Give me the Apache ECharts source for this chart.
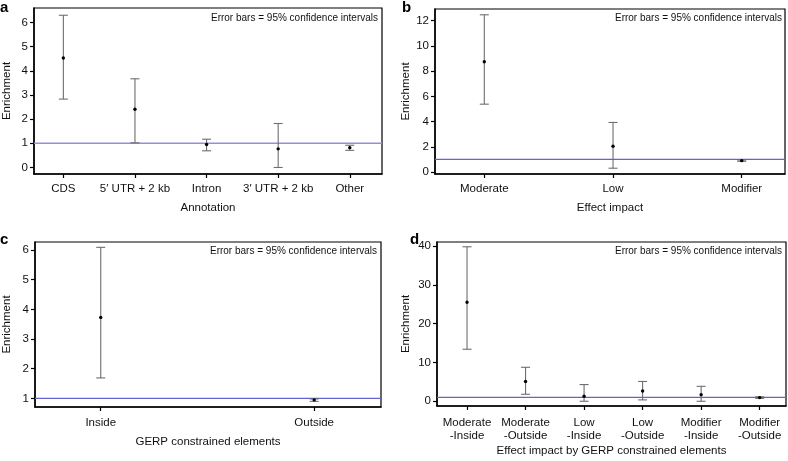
<!DOCTYPE html>
<html><head><meta charset="utf-8">
<script src="https://cdn.jsdelivr.net/npm/echarts@6/dist/echarts.min.js"></script>
<style>html,body{margin:0;padding:0;background:#fff}#c{width:788px;height:461px}</style>
</head><body><div id="c"></div>
<script>
// Panel a
const catsA = ['CDS', '5\u2032 UTR + 2 kb', 'Intron', '3\u2032 UTR + 2 kb', 'Other'];
const meanA = [4.53, 2.41, 0.95, 0.77, 0.82];
const lowA  = [2.83, 1.02, 0.69, 0.00, 0.71];
const highA = [6.30, 3.67, 1.17, 1.82, 0.92];
const yTicksA = [0, 1, 2, 3, 4, 5, 6];
// Panel b
const catsB = ['Moderate', 'Low', 'Modifier'];
const meanB = [8.75, 2.04, 0.90];
const lowB  = [5.38, 0.30, 0.85];
const highB = [12.47, 3.93, 0.95];
const yTicksB = [0, 2, 4, 6, 8, 10, 12];
// Panel c
const catsC = ['Inside', 'Outside'];
const meanC = [3.73, 0.95];
const lowC  = [1.69, 0.90];
const highC = [6.09, 0.98];
const yTicksC = [1, 2, 3, 4, 5, 6];
// Panel d
const catsD = ['Moderate\n-Inside', 'Moderate\n-Outside', 'Low\n-Inside', 'Low\n-Outside', 'Modifier\n-Inside', 'Modifier\n-Outside'];
const meanD = [25.5, 5.1, 1.3, 2.65, 1.7, 0.95];
const lowD  = [13.4, 1.8, 0.0, 0.35, 0.0, 0.75];
const highD = [39.8, 8.75, 4.3, 5.1, 3.85, 1.15];
const yTicksD = [0, 10, 20, 30, 40];

const refValue = 1;
const FONT = 'Liberation Sans, Arial, sans-serif';

const panels = [
  {cats: catsA, mean: meanA, low: lowA, high: highA, yt: yTicksA, grid: {left: 34, top: 8, width: 348, height: 166},
   xr: [0.59, 5.45], yr: [-0.27, 6.6], xname: 'Annotation', xgap: 34, ygap: 27, refColor: '#9090e2', refW: 1.6, lm: 8},
  {cats: catsB, mean: meanB, low: lowB, high: highB, yt: yTicksB, grid: {left: 435, top: 9, width: 350, height: 165},
   xr: [0.617, 3.336], yr: [-0.16, 12.93], xname: 'Effect impact', xgap: 34, ygap: 29, refColor: '#6363d2', refW: 1.2, lm: 8},
  {cats: catsC, mean: meanC, low: lowC, high: highC, yt: yTicksC, grid: {left: 34, top: 242, width: 347, height: 165},
   xr: [0.692, 2.313], yr: [0.71, 6.27], xname: 'GERP constrained elements', xgap: 35, ygap: 28, refColor: '#6363d2', refW: 1.2, lm: 9},
  {cats: catsD, mean: meanD, low: lowD, high: highD, yt: yTicksD, grid: {left: 437, top: 242, width: 349, height: 164},
   xr: [0.487, 6.45], yr: [-1.22, 41.03], xname: 'Effect impact by GERP constrained elements', xgap: 45, ygap: 31, refColor: '#6363d2', refW: 1.2, lm: 10}
];

const grids = [], xAxes = [], yAxes = [], series = [];
panels.forEach((p, i) => {
  grids.push(Object.assign({show: true, borderColor: '#000', borderWidth: 1.2, backgroundColor: 'transparent'}, p.grid));
  const xs = p.cats.map((c, k) => k + 1);
  xAxes.push({
    type: 'value', gridIndex: i, min: p.xr[0], max: p.xr[1],
    splitLine: {show: false},
    axisLine: {show: true, onZero: false, lineStyle: {color: '#000', width: 1.5}},
    axisTick: {show: true, customValues: xs, length: 4, lineStyle: {color: '#000', width: 1.2}},
    axisLabel: {customValues: xs, formatter: v => p.cats[Math.round(v) - 1] || '', color: '#111',
      fontFamily: FONT, fontSize: 11.5, margin: p.lm, lineHeight: 13},
    name: p.xname, nameLocation: 'middle', nameGap: p.xgap,
    nameTextStyle: {fontFamily: FONT, fontSize: 11.5, color: '#111', verticalAlign: 'middle'}
  });
  yAxes.push({
    type: 'value', gridIndex: i, min: p.yr[0], max: p.yr[1],
    splitLine: {show: false},
    axisLine: {show: true, onZero: false, lineStyle: {color: '#000', width: 1.5}},
    axisTick: {show: true, customValues: p.yt, length: 4, lineStyle: {color: '#000', width: 1.2}},
    axisLabel: {customValues: p.yt, color: '#111', fontFamily: FONT, fontSize: 11.5, margin: 6},
    name: 'Enrichment', nameLocation: 'middle', nameGap: p.ygap, nameRotate: 90,
    nameTextStyle: {fontFamily: FONT, fontSize: 11.5, color: '#111', verticalAlign: 'middle'}
  });
  // reference line at enrichment = 1 across the full axis span
  series.push({
    type: 'line', xAxisIndex: i, yAxisIndex: i, silent: true, symbol: 'none',
    data: [[p.xr[0], refValue], [p.xr[1], refValue]],
    lineStyle: {color: p.refColor, width: p.refW},
    itemStyle: {color: p.refColor}, z: 2
  });
  const data = xs.map((x, k) => [x, p.mean[k], p.low[k], p.high[k]]);
  series.push({
    type: 'custom', xAxisIndex: i, yAxisIndex: i, data: data, silent: true,
    renderItem: (params, api) => {
      const x = api.value(0);
      const m = api.coord([x, api.value(1)]);
      const lo = api.coord([x, api.value(2)]);
      const hi = api.coord([x, api.value(3)]);
      const cw = 4.5;
      const st = {stroke: '#6e6e6e', lineWidth: 1.1};
      return {type: 'group', children: [
        {type: 'line', shape: {x1: m[0], y1: lo[1], x2: m[0], y2: hi[1]}, style: st},
        {type: 'line', shape: {x1: m[0] - cw, y1: lo[1], x2: m[0] + cw, y2: lo[1]}, style: st},
        {type: 'line', shape: {x1: m[0] - cw, y1: hi[1], x2: m[0] + cw, y2: hi[1]}, style: st},
        {type: 'circle', shape: {cx: m[0], cy: m[1], r: 1.7}, style: {fill: '#000'}}
      ]};
    },
    z: 3
  });
});

const noteStyle = {fontFamily: FONT, fontSize: 10, fill: '#111', textAlign: 'right', textVerticalAlign: 'middle'};
const letterStyle = {fontFamily: FONT, fontSize: 15, fontWeight: 'bold', fill: '#000', textVerticalAlign: 'middle'};
const graphic = [
  {type: 'text', left: 0, top: 0, style: Object.assign({text: 'a'}, letterStyle)},
  {type: 'text', left: 402, top: 0, style: Object.assign({text: 'b'}, letterStyle)},
  {type: 'text', left: 0, top: 232, style: Object.assign({text: 'c'}, letterStyle)},
  {type: 'text', left: 410, top: 232, style: Object.assign({text: 'd'}, letterStyle)},
  {type: 'text', x: 378, y: 18, style: Object.assign({text: 'Error bars = 95% confidence intervals'}, noteStyle)},
  {type: 'text', x: 782, y: 18, style: Object.assign({text: 'Error bars = 95% confidence intervals'}, noteStyle)},
  {type: 'text', x: 377, y: 251, style: Object.assign({text: 'Error bars = 95% confidence intervals'}, noteStyle)},
  {type: 'text', x: 782, y: 251, style: Object.assign({text: 'Error bars = 95% confidence intervals'}, noteStyle)}
];

const chart = echarts.init(document.getElementById('c'), null, {renderer: 'canvas'});
chart.setOption({animation: false, backgroundColor: '#fff', grid: grids, xAxis: xAxes, yAxis: yAxes, series: series, graphic: graphic});
</script></body></html>
